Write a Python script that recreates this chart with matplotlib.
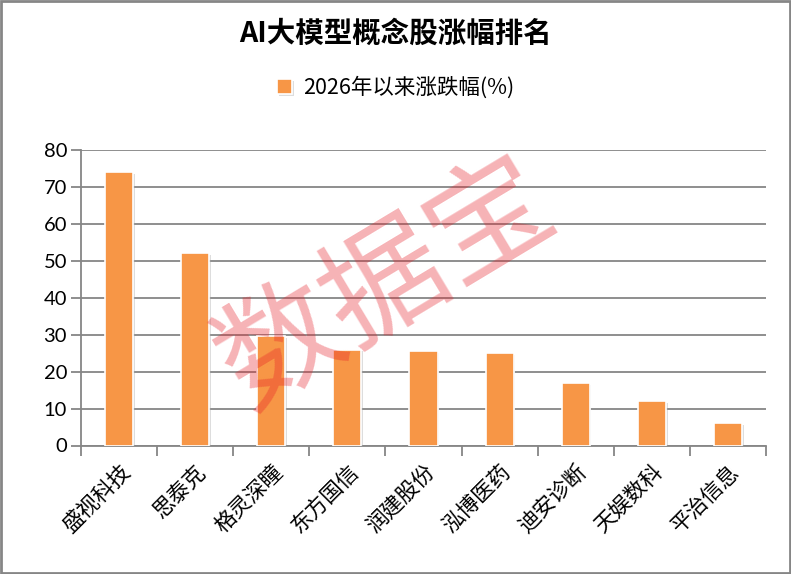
import matplotlib
matplotlib.use("Agg")
import matplotlib.pyplot as plt
import matplotlib.patheffects as pe
import numpy as np

categories = ["盛视科技", "思泰克", "格灵深瞳", "东方国信", "润建股份", "泓博医药", "迪安诊断", "天娱数科", "平治信息"]
values = [74.0, 52.1, 29.6, 25.9, 25.6, 25.0, 16.9, 12.0, 6.1]
yticks = [0, 10, 20, 30, 40, 50, 60, 70, 80]
title = "AI大模型概念股涨幅排名"
series_name = "2026年以来涨跌幅(%)"
watermark = "数据宝"

plt.rcParams['font.family'] = ['Noto Sans CJK SC', 'DejaVu Sans']

grey = '#868686'
orange = '#F79646'

fig = plt.figure(figsize=(7.91, 5.74), dpi=100)
ax = fig.add_axes([81/791, 1-445.5/574, (766-81)/791, (445.5-150)/574])

x = np.arange(len(categories))
bars = ax.bar(x, values, width=0.37, color=orange, edgecolor='white', linewidth=1.2,
              zorder=3, label=series_name)
for b in bars:
    b.set_path_effects([pe.SimplePatchShadow(offset=(1.2, -1.2), shadow_rgbFace='#aaaaaa', alpha=0.4), pe.Normal()])

ax.set_xlim(-0.5, len(categories) - 0.5)
ax.set_ylim(0, 80)
ax.set_yticks(yticks)
ax.set_yticklabels([str(v) for v in yticks], fontsize=14.5, family=['Lato', 'DejaVu Sans'])
ax.yaxis.grid(True, color=grey, linewidth=1.3, zorder=0)
ax.set_axisbelow(True)

ax.set_xticks(x)
ax.set_xticklabels(categories, rotation=45, ha='right', va='top', rotation_mode='anchor',
                   fontsize=15.5)
ax.tick_params(axis='x', length=0, pad=11)
ax.set_xticks(np.arange(-0.5, len(categories)), minor=True)
ax.tick_params(axis='x', which='minor', length=7, width=1.3, color=grey)
ax.tick_params(axis='y', length=7, width=1.3, color=grey, pad=3)

for s in ['top', 'right']:
    ax.spines[s].set_visible(False)
for s in ['left', 'bottom']:
    ax.spines[s].set_color(grey)
    ax.spines[s].set_linewidth(1.3)

fig.text(0.5, 1-34/574, title, ha='center', va='center', fontsize=20.5, fontweight='bold')

fig.legend(handles=[bars], labels=[series_name], loc='center', bbox_to_anchor=(0.5, 1-88/574),
           frameon=False, fontsize=15.5, handlelength=0.7, handleheight=0.7, handletextpad=0.5)

fig.text(387/791, 1-285/574, watermark, ha='center', va='center', fontsize=88,
         rotation=31, color=(230/255, 30/255, 40/255), alpha=0.34, zorder=10)

border = plt.Rectangle((0.0015, 0.002), 0.997, 0.996, transform=fig.transFigure,
                       fill=False, edgecolor=grey, linewidth=2)
fig.patches.append(border)

fig.savefig("out.png", dpi=100)
